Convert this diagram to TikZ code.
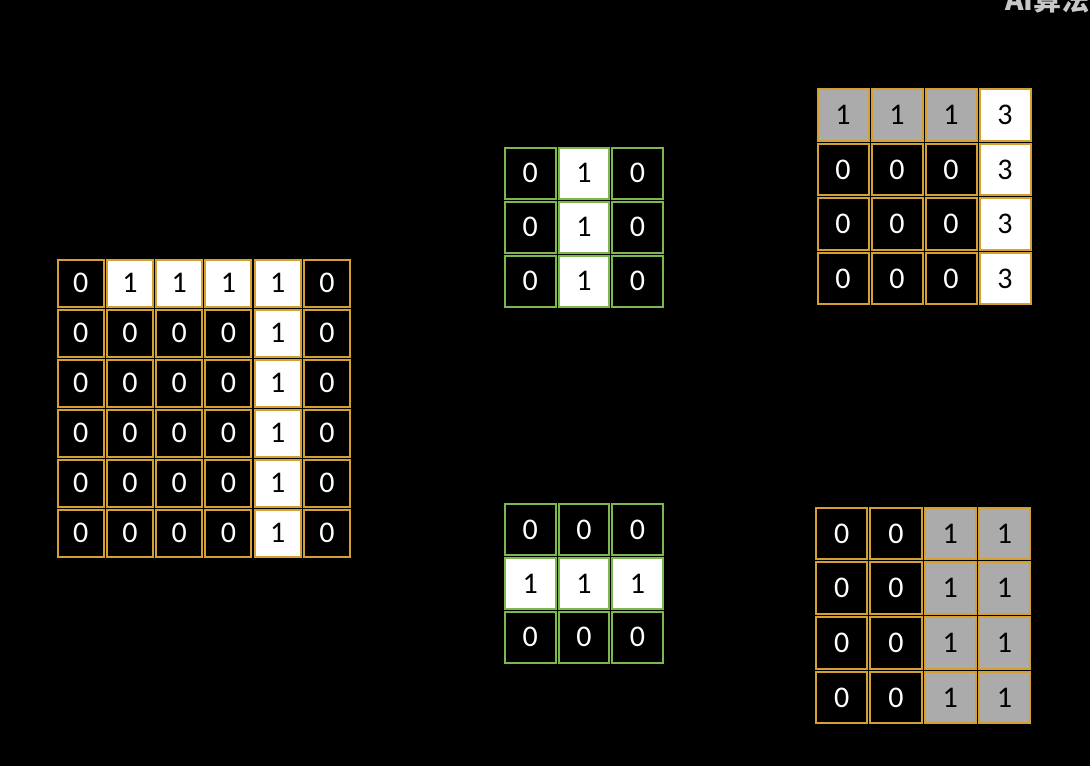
\documentclass[tikz,border=0pt]{standalone}
\usepackage{fontspec}
\setmainfont{Carlito}
\newfontfamily\cjk{Noto Sans CJK SC}
\definecolor{gold}{HTML}{D4A032}
\definecolor{kgreen}{HTML}{7DB84F}
\definecolor{cgray}{HTML}{ABABAB}
\definecolor{wmark}{HTML}{C8C8C8}
\tikzset{
  cellbox/.style 2 args={draw=gold, line width=2pt, minimum width=#1, minimum height=#2,
    inner sep=0pt, font=\fontsize{30}{30}\selectfont},
  kernbox/.style={cellbox={50.6}{51}, draw=kgreen},
  cB/.style={fill=black, text=white},
  cW/.style={fill=white, text=black},
  cG/.style={fill=cgray, text=black},
}
\begin{document}
\begin{tikzpicture}[x=1pt,y=1pt]
\useasboundingbox (0,0) rectangle (1090,-766);
\clip (0,0) rectangle (1090,-766);
\fill[black] (0,0) rectangle (1090,-766);
% watermark (cut off at the top edge, as in the reference)
\node[anchor=base west, inner sep=0pt, text=wmark, font=\cjk\bfseries\fontsize{28}{28}\selectfont] (wm) at (1005,-10) {AI算法};
% left 6x6 grid
\foreach \row [count=\r] in {{cB/0,cW/1,cW/1,cW/1,cW/1,cB/0},{cB/0,cB/0,cB/0,cB/0,cW/1,cB/0},{cB/0,cB/0,cB/0,cB/0,cW/1,cB/0},{cB/0,cB/0,cB/0,cB/0,cW/1,cB/0},{cB/0,cB/0,cB/0,cB/0,cW/1,cB/0},{cB/0,cB/0,cB/0,cB/0,cW/1,cB/0}}{
  \foreach \s/\v [count=\c] in \row {
    \node[cellbox={46.2}{47}, \s] (L-\r-\c) at ({56+(\c-0.5)*49.25},{-(258+(\r-0.5)*50)}) {\v};
  }
}
% kernel 1 (vertical)
\foreach \row [count=\r] in {{cB/0,cW/1,cB/0},{cB/0,cW/1,cB/0},{cB/0,cW/1,cB/0}}{
  \foreach \s/\v [count=\c] in \row {
    \node[kernbox, \s] (K1-\r-\c) at ({503.5+(\c-0.5)*53.6},{-(146+(\r-0.5)*54)}) {\v};
  }
}
% kernel 2 (horizontal)
\foreach \row [count=\r] in {{cB/0,cB/0,cB/0},{cW/1,cW/1,cW/1},{cB/0,cB/0,cB/0}}{
  \foreach \s/\v [count=\c] in \row {
    \node[kernbox, \s] (K2-\r-\c) at ({503.5+(\c-0.5)*53.6},{-(503+(\r-0.5)*53.6)}) {\v};
  }
}
% result top-right
\foreach \row [count=\r] in {{cG/1,cG/1,cG/1,cW/3},{cB/0,cB/0,cB/0,cW/3},{cB/0,cB/0,cB/0,cW/3},{cB/0,cB/0,cB/0,cW/3}}{
  \foreach \s/\v [count=\c] in \row {
    \node[cellbox={51}{51.6}, \s] (R1-\r-\c) at ({816+(\c-0.5)*54},{-(87.5+(\r-0.5)*54.6)}) {\v};
  }
}
% result bottom-right
\foreach \row [count=\r] in {{cB/0,cB/0,cG/1,cG/1},{cB/0,cB/0,cG/1,cG/1},{cB/0,cB/0,cG/1,cG/1},{cB/0,cB/0,cG/1,cG/1}}{
  \foreach \s/\v [count=\c] in \row {
    \node[cellbox={51.3}{51.7}, \s] (R2-\r-\c) at ({814.5+(\c-0.5)*54.3},{-(506+(\r-0.5)*54.75)}) {\v};
  }
}
\end{tikzpicture}
\end{document}
